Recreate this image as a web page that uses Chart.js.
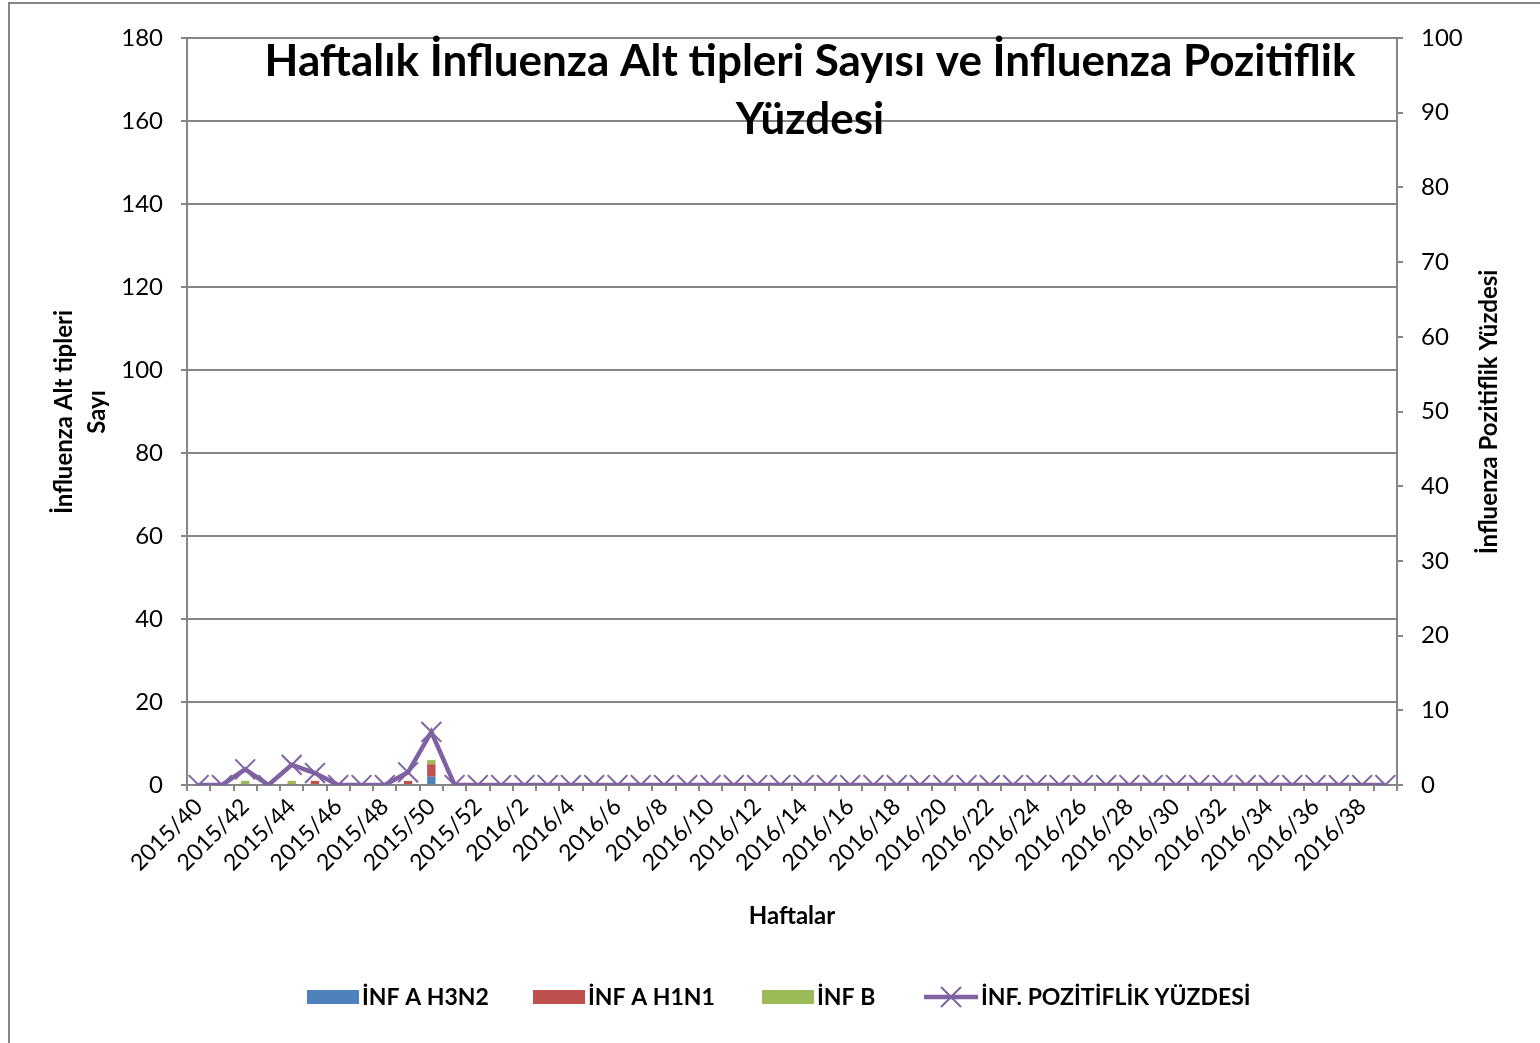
<!DOCTYPE html>
<html>
<head>
<meta charset="utf-8">
<script src="https://cdn.jsdelivr.net/npm/chart.js@4"></script>
<style>
  html, body { margin: 0; padding: 0; background: #fff; }
  #wrap { width: 1540px; height: 1043px; position: relative; }
</style>
</head>
<body>
<div id="wrap"><canvas id="myChart" width="1540" height="1043"></canvas></div>
<script>
// weeks 2015/40 .. 2015/52, 2016/1 .. 2016/39
const weeks = [];
for (let w = 40; w <= 52; w++) weeks.push('2015/' + w);
for (let w = 1; w <= 39; w++) weeks.push('2016/' + w);

// counts (left axis), only the first weeks had positives
const h3n2 = [0, 0, 0, 0, 0, 0, 0, 0, 0, 0, 2, 0, 0, 0, 0, 0, 0, 0, 0, 0, 0, 0, 0, 0, 0, 0, 0, 0, 0, 0, 0, 0, 0, 0, 0, 0, 0, 0, 0, 0, 0, 0, 0, 0, 0, 0, 0, 0, 0, 0, 0, 0];
const h1n1 = [0, 0, 0, 0, 0, 1, 0, 0, 0, 1, 3, 0, 0, 0, 0, 0, 0, 0, 0, 0, 0, 0, 0, 0, 0, 0, 0, 0, 0, 0, 0, 0, 0, 0, 0, 0, 0, 0, 0, 0, 0, 0, 0, 0, 0, 0, 0, 0, 0, 0, 0, 0];
const infB = [0, 0, 1, 0, 1, 0, 0, 0, 0, 0, 1, 0, 0, 0, 0, 0, 0, 0, 0, 0, 0, 0, 0, 0, 0, 0, 0, 0, 0, 0, 0, 0, 0, 0, 0, 0, 0, 0, 0, 0, 0, 0, 0, 0, 0, 0, 0, 0, 0, 0, 0, 0];
// positivity percentage (right axis)
const positivity = [0, 0, 2.1, 0, 2.7, 1.6, 0, 0, 0, 1.7, 7.1, 0, 0, 0, 0, 0, 0, 0, 0, 0, 0, 0, 0, 0, 0, 0, 0, 0, 0, 0, 0, 0, 0, 0, 0, 0, 0, 0, 0, 0, 0, 0, 0, 0, 0, 0, 0, 0, 0, 0, 0, 0];

const FONT = 'Lato, "Open Sans", sans-serif';
const GRID = '#868686';

// titles, axis titles, legend and outer frame drawn by hand
const decorations = {
    id: 'decorations',
    beforeDraw(chart) {
        const ctx = chart.ctx;
        ctx.save();
        ctx.fillStyle = '#fff';
        ctx.fillRect(0, 0, chart.width, chart.height);
        ctx.strokeStyle = GRID;
        ctx.lineWidth = 2;
        ctx.strokeRect(9, 3, chart.width + 10, chart.height + 10);
        ctx.restore();
    },
    afterDraw(chart) {
        const ctx = chart.ctx;
        ctx.save();
        ctx.fillStyle = '#000';
        ctx.textAlign = 'center';
        ctx.textBaseline = 'middle';

        ctx.font = 'bold 44px ' + FONT;
        ctx.fillText('Haftalık İnfluenza Alt tipleri Sayısı ve İnfluenza Pozitiflik', 810, 62);
        ctx.fillText('Yüzdesi', 810, 120);

        ctx.font = 'bold 24px ' + FONT;
        ctx.fillText('Haftalar', 792, 916);

        ctx.save();
        ctx.translate(64, 412);
        ctx.rotate(-Math.PI / 2);
        ctx.fillText('İnfluenza Alt tipleri', 0, 0);
        ctx.fillText('Sayı', 0, 33);
        ctx.restore();

        ctx.save();
        ctx.translate(1489, 412);
        ctx.rotate(-Math.PI / 2);
        ctx.fillText('İnfluenza Pozitiflik Yüzdesi', 0, 0);
        ctx.restore();

        // legend: bars first, then the line
        const ds = chart.data.datasets;
        const items = [
            { x: 307, w: 52, ds: ds[1] },
            { x: 533, w: 52, ds: ds[2] },
            { x: 762, w: 52, ds: ds[3] },
            { x: 924, w: 54, ds: ds[0] }
        ];
        const ly = 997;
        ctx.textAlign = 'left';
        ctx.font = 'bold 23px ' + FONT;
        items.forEach((it) => {
            if (it.ds.type === 'line') {
                ctx.strokeStyle = it.ds.borderColor;
                ctx.lineWidth = 4.5;
                ctx.beginPath();
                ctx.moveTo(it.x, ly);
                ctx.lineTo(it.x + it.w, ly);
                ctx.stroke();
                const cx = it.x + it.w / 2;
                ctx.lineWidth = 2;
                ctx.beginPath();
                ctx.moveTo(cx - 10, ly - 10); ctx.lineTo(cx + 10, ly + 10);
                ctx.moveTo(cx - 10, ly + 10); ctx.lineTo(cx + 10, ly - 10);
                ctx.stroke();
            } else {
                ctx.fillStyle = it.ds.backgroundColor;
                ctx.fillRect(it.x, ly - 7, it.w, 14);
            }
            ctx.fillStyle = '#000';
            ctx.fillText(it.ds.label, it.x + it.w + 3, ly + 1);
        });
        ctx.restore();
    }
};

(function () {
    const ctx = document.getElementById('myChart').getContext('2d');
    new Chart(ctx, {
        data: {
            labels: weeks,
            datasets: [
                {
                    type: 'line',
                    label: 'İNF. POZİTİFLİK YÜZDESİ',
                    data: positivity,
                    yAxisID: 'y1',
                    borderColor: '#7F62A1',
                    backgroundColor: '#7F62A1',
                    borderWidth: 4.5,
                    pointStyle: 'crossRot',
                    pointRadius: 14,
                    pointBorderWidth: 2,
                    pointHoverRadius: 14,
                    tension: 0,
                    order: 0
                },
                { type: 'bar', label: 'İNF A H3N2', data: h3n2, backgroundColor: '#4F81BD', yAxisID: 'y', stack: 's', order: 1 },
                { type: 'bar', label: 'İNF A H1N1', data: h1n1, backgroundColor: '#C0504D', yAxisID: 'y', stack: 's', order: 1 },
                { type: 'bar', label: 'İNF B', data: infB, backgroundColor: '#9BBB59', yAxisID: 'y', stack: 's', order: 1 }
            ]
        },
        options: {
            responsive: false,
            animation: false,
            layout: { padding: { top: 38, left: 0, right: 0, bottom: 0 } },
            datasets: { bar: { categoryPercentage: 0.72, barPercentage: 0.5 } },
            plugins: {
                legend: { display: false },
                title: { display: false },
                tooltip: { enabled: false }
            },
            scales: {
                x: {
                    stacked: true,
                    offset: true,
                    afterFit: (s) => { s.height = 258; },
                    grid: {
                        offset: true,
                        drawOnChartArea: false,
                        color: GRID,
                        lineWidth: 2,
                        tickLength: 6
                    },
                    border: { color: GRID, width: 2 },
                    ticks: {
                        autoSkip: false,
                        maxRotation: 45,
                        minRotation: 45,
                        color: '#000',
                        font: { family: FONT, size: 23 },
                        padding: 2,
                        callback: function (v, i) { return i % 2 === 0 ? weeks[i] : ''; }
                    }
                },
                y: {
                    position: 'left',
                    stacked: true,
                    min: 0,
                    max: 180,
                    afterFit: (s) => { s.width = 187; },
                    grid: { color: GRID, lineWidth: 2, tickLength: 6 },
                    border: { color: GRID, width: 2 },
                    ticks: {
                        stepSize: 20,
                        color: '#000',
                        font: { family: FONT, size: 24 },
                        padding: 18
                    }
                },
                y1: {
                    position: 'right',
                    min: 0,
                    max: 100,
                    afterFit: (s) => { s.width = 143; },
                    grid: { drawOnChartArea: false, color: GRID, lineWidth: 2, tickLength: 6 },
                    border: { color: GRID, width: 2 },
                    ticks: {
                        stepSize: 10,
                        color: '#000',
                        font: { family: FONT, size: 24 },
                        padding: 18
                    }
                }
            }
        },
        plugins: [decorations]
    });
})();
</script>
</body>
</html>
